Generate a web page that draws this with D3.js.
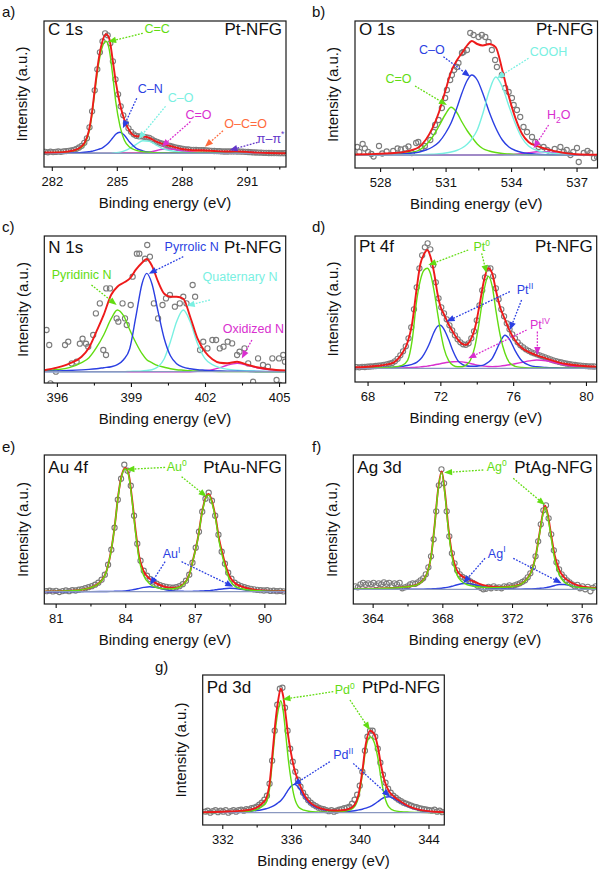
<!DOCTYPE html>
<html><head><meta charset="utf-8">
<script src="https://cdn.jsdelivr.net/npm/d3@7"></script>
<style>body{margin:0;background:#fff}svg{display:block}</style>
</head><body><svg id="chart" width="600" height="870"></svg>
<script>
// ---------------- DATA ----------------
// Panel a: C 1s (Pt-NFG)
const aGrid = [281.64,282.5,283.0,283.3,283.5,283.7,283.85,284.0,284.15,284.3,284.5,284.65,284.8,284.95,285.15,285.35,285.6,285.9,286.2,286.5,286.8,287.1,287.5,288.0,288.5,289.0,289.5,290.0,290.5,291.0,291.5,292.0,292.81];
const aCC  = [0.5,1,2.5,5,9,20,38,64,88,104,112,104,80,52,27,13,6,3,1.5,1,0.5,0.3,0.2,0.1,0,0,0,0,0,0,0,0,0];
const aCN  = [0,0.1,0.3,0.6,1,1.5,2,3,4,5,8,11,15,19,21,18,11,5,2.5,1.2,0.5,0.3,0.1,0,0,0,0,0,0,0,0,0,0];
const aCO  = [0,0,0,0,0,0,0,0,0,0,0,0,0.3,0.6,1.2,2.5,5,9,12.5,12,8.5,5,2.5,1,0.4,0.2,0.1,0,0,0,0,0,0];
const aCdO = [0,0,0,0,0,0,0,0,0,0,0,0,0,0,0,0,0,0,0.5,1.2,2.5,4,4.3,2.5,1,0.4,0.1,0,0,0,0,0,0];
const aOCO = [0,0,0,0,0,0,0,0,0,0,0,0,0,0,0,0,0,0,0,0,0,0,0.3,0.8,1.8,2.5,2,1,0.4,0.1,0,0,0];
const aPi  = [0,0,0,0,0,0,0,0,0,0,0,0,0,0,0,0,0,0,0,0,0,0,0,0,0,0,0.2,0.8,1.5,1.3,0.7,0.3,0.1];
const aFit = [0.8,1.2,2.8,5.6,10,21.5,40,67,92,109,119,115,95,72,49,33.5,22,17,17,15.4,12,9.6,7.1,4.3,3.2,3.1,2.3,1.8,1.9,1.4,0.7,0.3,0.1];
const aDataStart = 281.7, aDataStep = 0.12;
const aData = [1.5,1.0,1.6,1.2,1.4,1.8,1.5,2.0,2.2,2.4,2.8,3.5,4.5,5.8,7.5,10.5,15,26,42,63,84,101,112,120,118,110,92,74,59,47,38,30,25,21.5,19,17.5,17,17,16.5,16,15.5,14,12.5,11.5,10.5,9.6,8.8,8,7.3,6.6,6,5.4,4.8,4.4,4,3.8,3.5,3.4,3.3,3.2,3.2,3.1,2.9,2.7,2.5,2.3,2.2,2.1,1.9,1.8,1.8,1.9,1.9,1.9,1.8,1.7,1.6,1.5,1.3,1.1,0.9,0.8,0.7,0.6,0.5,0.4,0.3,0.3,0.2,0.2,0.1,0.1,0.1];
const aTicks = [282,285,288,291], aMinor = [283.5,286.5,289.5,292.5];

// Panel b: O 1s (Pt-NFG)
const bGrid = [526.85,527.5,528,528.5,529,529.4,529.8,530.1,530.4,530.7,531.0,531.25,531.5,531.75,532.0,532.2,532.45,532.7,533.0,533.3,533.6,533.9,534.2,534.5,534.8,535.2,535.6,536.0,536.5,537.0,537.96];
const bCdO = [0,0.2,0.4,0.7,1.3,2.5,5,10,18,29,41,47.7,43,33,24,18,11,6.5,4,2.5,1.5,1,0.6,0.4,0.3,0.2,0.1,0,0,0,0];
const bCO  = [0,0.1,0.3,0.6,1,1.8,3,5,8,13,22,32,46,62,75,80,75,62,43,27,15,8,4.5,2.5,1.5,0.8,0.4,0.2,0.1,0,0];
const bCOOH= [0,0,0,0,0.1,0.2,0.3,0.5,0.8,1.2,2,3,4.5,7,11,16,25,41,64,78,68,49,31,17,9,4.5,2.5,1.5,0.8,0.4,0.2];
const bH2O = [0,0,0,0,0,0,0,0,0,0,0,0,0,0,0,0,0,0,0,0.1,0.3,0.5,0.8,1.4,2.2,3.3,3.2,2.2,1,0.4,0.1];
const bFit = [0.5,0.8,1.2,1.8,2.6,4.5,8.3,15.5,26.8,43,65,83,94,102,110,114,111,109.5,111,107.6,84.8,58.5,36.9,21.3,13,8.8,6.1,3.9,1.9,0.8,0.3];
const bData = [[526.95,8],[527.05,3],[527.2,11],[527.3,6.5],[527.45,3],[527.6,1],[527.7,-1.5],[527.95,9],[528.1,1.5],[528.3,3.5],[528.6,4],[528.8,6.5],[528.95,5.5],[529.15,6.5],[529.3,8.5],[529.45,2],[529.65,12],[529.75,13],[529.9,7],[530.05,9],[530.3,15],[530.45,23],[530.52,30],[530.68,35],[530.83,47],[530.98,57],[531.06,65],[531.21,75],[531.29,80],[531.39,85],[531.52,88],[531.59,92],[531.75,102],[531.82,103],[531.98,105],[532.13,122],[532.28,120],[532.51,118],[532.66,120],[532.82,118],[532.97,113],[533.12,105],[533.27,95],[533.35,88],[533.58,80],[533.73,67],[533.89,63],[534.04,57],[534.12,50],[534.27,45],[534.42,38],[534.57,28],[534.73,23],[534.96,18],[535.11,13],[535.26,8],[535.49,8],[535.65,5],[535.8,3],[536.0,6],[536.26,8],[536.41,3],[536.55,5],[536.72,0],[536.85,3],[537.02,7],[537.1,-7],[537.33,2],[537.5,4],[537.63,2],[537.8,-3],[537.94,-2]];
const bTicks = [528,531,534,537], bMinor = [529.5,532.5,535.5];

// Panel c: N 1s (Pt-NFG)
const cGrid = [395.49,396,396.5,397,397.3,397.6,397.9,398.2,398.45,398.7,398.95,399.2,399.45,399.64,399.85,400.1,400.35,400.6,400.85,401.12,401.4,401.7,402.0,402.3,402.6,402.9,403.3,403.7,404.1,404.6,405.27];
const cPyridinic  = [1,2,4,9,14,24,37,53,61.7,56,42,29,18,12,9,6,4.5,3,2,1.5,1,0.7,0.5,0.3,0.2,0.1,0.1,0.1,0,0,0];
const cPyrrolic   = [0.5,0.8,1.2,1.8,2.3,3,4,5,7,12,23,55,88,98.3,88,60,33,16,8,4.5,3,2,1.5,1,0.7,0.5,0.4,0.3,0.2,0.1,0.1];
const cQuaternary = [0,0,0,0,0,0,0,0,0,0,0.3,0.5,0.8,1.3,2,5,13,30,50,61.7,50,28,13,7,4,2.5,1.5,1,0.6,0.3,0.1];
const cOxidized   = [0,0,0,0,0,0,0,0,0,0,0,0,0,0,0,0,0,0,0,0,0,0.3,1,2,4,6.5,8.3,6.5,4,2,0.6];
const cFit = [1.5,4,8,15,24,40,57,77,85,89,93,102,109,112.7,106,90,78,75,75,73,55,33,20,12.5,9,8.5,10,7,4.5,2.5,1.3];
const cData = [[395.58,41.7],[395.69,26.7],[395.74,-11.7],[395.85,-14],[395.96,0],[396.33,26.7],[396.46,30],[396.6,8.3],[396.8,10],[396.93,28],[397.04,33],[397.18,28],[397.27,25],[397.47,36.7],[397.58,58.3],[397.74,68.3],[397.88,21.7],[397.99,16.7],[398.0,83.3],[398.15,83.3],[398.42,53.3],[398.49,50],[398.66,68.3],[398.76,53.3],[398.83,46.7],[398.99,66.7],[399.07,95],[399.24,118],[399.34,118],[399.57,113],[399.66,126.7],[399.77,115],[399.93,68.3],[400.1,53.3],[400.28,66.7],[400.42,73.3],[400.58,76.7],[400.78,65],[400.98,68.3],[401.12,75],[401.25,68.3],[401.5,86.7],[401.6,75],[401.8,21.7],[401.93,30],[402.1,23.3],[402.3,31.7],[402.45,31.7],[402.6,23.3],[402.75,25],[402.92,30],[403.1,28.3],[403.3,16.7],[403.4,20],[403.6,23.3],[403.75,8.3],[403.95,-10],[404.15,13.3],[404.35,6.7],[404.55,5],[404.73,13.3],[404.9,-8.3],[405.0,13.3],[405.17,16.7],[405.24,10],[405.03,-13.3]];
const cTicks = [396,399,402,405], cMinor = [397.5,400.5,403.5];

// Panel d: Pt 4f (Pt-NFG)
const dGrid = [67.31,68,68.8,69.4,69.9,70.2,70.45,70.7,70.9,71.1,71.28,71.45,71.65,71.85,72.0,72.2,72.45,72.7,72.95,73.2,73.4,73.65,73.9,74.15,74.4,74.63,74.85,75.05,75.3,75.55,75.8,76.1,76.5,76.9,77.3,77.8,78.4,79.0,79.7,80.59];
const dPt0  = [0.2,0.3,0.6,1.2,3,8,28,68,88,98,100,95,78,55,38,20,8,3,1.5,1.5,3,8,22,48,78,92,82,58,32,15,5.5,2,0.8,0.4,0.3,0.2,0.1,0.1,0,0];
const dPt2  = [0.3,0.5,0.8,1.2,2,2.8,4,6,9,14,20,27,36,42,43,39,29,17,8,4,2.5,2,2,2.5,3.5,6,10,17,27,33,29,18,7,3,1.5,0.8,0.5,0.3,0.2,0.1];
const dPt4  = [0,0,0.1,0.2,0.4,0.6,0.8,1.1,1.4,1.8,2.2,2.7,3.3,4,4.6,5.3,6,6.5,6.7,6.4,5.8,4.8,3.7,2.8,2.2,1.8,1.7,1.8,2.2,2.8,3.5,4.6,6,7.4,8.3,7.5,5,2.8,1.3,0.5];
const dFit  = [1,1.5,3,5.5,15,26,45,80,104,114,118.3,112,96,74,62,54,44,36,29,24.5,23.5,28,40,63,88,100,95,78,60,49,38,28,20,16,13,10,6.5,4,2.5,1.7];
const dDataStart = 67.4, dDataStep = 0.15;
const dData = [1.2,1.0,1.5,1.3,1.6,1.8,2.0,2.3,2.6,3.0,3.4,3.9,4.6,5.4,7,9.5,13,17,22,30,41,59,81,100,113,121,125,119,103,86,70,61,55,49,43,38,33,29,26,24,23.5,25,30,37,48,63,78,91,100,100,92,80,69,59,52,45,39,34,30,26,23,21,19,17.5,16,15,14,13,12,11,10,9,8,7.2,6.5,5.8,5.2,4.6,4.1,3.7,3.3,3,2.7,2.4,2.2,2,1.9,1.8];
const dTicks = [68,72,76,80], dMinor = [70,74,78];

// Panel e: Au 4f (PtAu-NFG)
const eGrid = [80.51,81.3,82.0,82.5,82.9,83.2,83.4,83.55,83.7,83.85,84.0,84.15,84.3,84.45,84.6,84.8,85.05,85.3,85.6,85.9,86.2,86.5,86.75,86.95,87.15,87.3,87.45,87.6,87.75,87.9,88.05,88.25,88.5,88.75,89.0,89.4,89.9,90.92];
const eAu0 = [0.3,0.6,1.5,4,9,21,42,66,96,116,123,116,90,58,32,16,8,4.5,3,2.8,3.5,7,16,34,55,77,92,96.7,88,72,50,30,12,5,3,1.5,0.8,0.3];
const eAu1 = [0,0,0.05,0.1,0.15,0.2,0.3,0.4,0.5,0.6,0.8,1.2,1.8,2.5,3.3,4.3,5,4.3,2.7,1.3,0.6,0.4,0.3,0.4,0.5,0.7,0.9,1.1,1.5,1.9,2.4,3,3.4,3.2,2.4,1.2,0.4,0.1];
const eFit = [0.3,0.6,1.6,4.1,9.2,21.2,42.3,66.4,96.5,116.6,123.8,117.2,91.8,60.5,35.3,20.3,13,8.8,5.7,4.1,4.1,7.4,16.3,34.4,55.5,77.7,92.9,97.8,89.5,73.9,52.4,33,15.4,8.2,5.4,2.7,1.2,0.4];
const eDataStart = 80.6, eDataStep = 0.14;
const eData = [0.5,1,0.3,0.8,-0.3,0.6,1.2,0.5,1.5,1.2,2,2.5,3.5,4.5,5.5,7,9,12,17,27,42,64,92,113,127,121,106,76,48,31,21,16,12.5,10,8,6.5,5.5,4.8,4.3,4,4.5,5.5,7.5,11,17,29,44,60,80,93,99,91,76,57,40,28,19,13,9,7,5.5,4.5,3.5,2.8,2.3,1.8,1.5,1.2,1.5,0.8,1,0.5,0.8,0.3];
const eTicks = [81,84,87,90], eMinor = [82.5,85.5,88.5];

// Panel f: Ag 3d (PtAg-NFG)
const fGrid = [362.89,363.8,364.8,365.6,366.2,366.6,366.9,367.15,367.35,367.55,367.75,367.96,368.15,368.35,368.55,368.8,369.1,369.4,369.8,370.3,370.9,371.5,372.1,372.5,372.85,373.1,373.35,373.55,373.75,373.9,374.05,374.25,374.45,374.7,375.0,375.4,375.9,376.86];
const fAg0 = [0.3,0.6,1,1.8,3,5,9,17,32,62,98,116.7,95,59,33,16,8,4.8,3,2,1.7,2,3,5,10,17,32,52,73,82,73,51,30,15,7,3.5,1.8,0.8];
const fAg1 = [0,0,0,0,0.05,0.1,0.15,0.25,0.4,0.6,0.8,1.1,1.6,2.2,3,4.3,5.5,6,4.8,2.5,0.9,0.4,0.2,0.2,0.3,0.4,0.6,0.9,1.2,1.6,2,2.8,3.8,4.8,4.8,3.3,1.5,0.4];
const fFit = [0.3,0.6,1,1.8,3.1,5.1,9.2,17.3,32.4,62.6,98.8,117.8,96.6,61.2,36,20.3,13.5,10.8,7.8,4.5,2.6,2.4,3.2,5.2,10.3,17.4,32.6,52.9,74.2,83.6,75,53.8,33.8,19.8,11.8,6.8,3.3,1.2];
const fDataStart = 363.0, fDataStep = 0.15;
const fData = [3,2,5,6.5,4.5,6,5,6.5,4,6,5,7,5.5,6.5,4,6,5,6.5,1,2,3,5,6,5.5,7,9,11,15,22,33,50,78,104,120,106,78,53,36,26,19,15,12.5,11,10,8,6.5,5,3,1.5,0,0.5,2.5,1,3,1.5,2,1,3,2.5,4,3,4,5,6,7.5,9,12,16,22,33,48,65,79,84,71,55,39,27,20,15,12,9,7,5,3,4.5,1,3,0,2.5,-2,1.5,3];
const fTicks = [364,368,372,376], fMinor = [366,370,374];

// Panel g: Pd 3d (PtPd-NFG)
const gGrid = [330.86,332,333,333.6,334.0,334.3,334.55,334.75,334.95,335.1,335.25,335.4,335.55,335.7,335.85,336.0,336.2,336.45,336.75,337.1,337.5,338.0,338.5,339.0,339.4,339.7,339.95,340.15,340.35,340.6,340.85,341.05,341.25,341.45,341.7,342.0,342.4,342.9,343.5,344.2,344.92];
const gPd0 = [0.2,0.4,0.8,1.5,3,6,10,24,58,84,102,112,101,77,52,33,15,5.5,2.5,1.3,0.8,0.6,0.7,1.2,2.5,6,17,38,64,76,70,55,33,16,5.5,2,1,0.6,0.3,0.2,0.1];
const gPd2 = [0.3,0.6,1,1.5,2.2,3,4,5,6.5,8,10,12,15,19,23,26.5,28.3,25,16,9,5,2.5,1.5,1.2,1.5,2,2.8,3.5,4.5,6,8.5,11,13.5,15.5,16,14,10,5.5,2.5,1,0.4];
const gFit = [0.5,1,1.8,3,5.2,9,14,29,64.5,92,112,124,116,96,75,59.5,43.3,30.5,18.5,10.3,5.8,3.1,2.2,2.4,4,8,19.8,41.5,68.5,82,78.5,66,46.5,31.5,21.5,16,11,6.1,2.8,1.2,0.5];
const gDataStart = 331.0, gDataStep = 0.15;
const gData = [1,2,0,1.5,2.5,0.5,2,1,2.5,0,1.5,2.5,1,2.5,3,2,3.5,3,4.5,5,6,8,10,13,17,29,52,82,108,124,125,105,82,64,51,41,33,26,20,16,12.5,10,8,6.5,5,4,3.5,2.5,1.5,2.5,1,2,3,3.5,4.5,5,6,9,13,18,27,41,62,76,82,82,76,64,50,38,30,24,20,17,15,13,11.5,10,9,8,7,6,5.5,4.5,4,3.5,3,2.5,2,3,1,2,0.5];
const gTicks = [332,336,340,344], gMinor = [334,338,342];

// ---------------- STYLE / LAYOUT ----------------
const FONT = '"Liberation Sans", Arial, Helvetica, sans-serif';
const C = {green:'#62dc12', blue:'#2b3fe2', cyan:'#79f0e2', magenta:'#d92fcf', orange:'#ff6a3c', purple:'#6236c9',
           red:'#ee1a1a', dot:'#7c7c7c', base:'#8a98c0'};
const NOTE_SIZE = 12.5;
const toPairs = (start, step, vals) => vals.map((v, i) => [start + i * step, v]);

const panels = [
  {id:'a', tag:'a)', tagXY:[2,17], box:{x0:44,x1:286,y0:21,y1:167}, core:'C 1s', coreDy:14, sample:'Pt-NFG',
   xDomain:[281.64,292.81], yDomain:[-13.7,132.3], ticks:aTicks, minor:aMinor, grid:aGrid, fit:aFit,
   comps:[[aPi,C.purple],[aOCO,C.orange],[aCdO,C.magenta],[aCO,C.cyan],[aCN,C.blue],[aCC,C.green]],
   points:toPairs(aDataStart,aDataStep,aData),
   notes:[
     {seg:[['C=C']], color:C.green, at:[286.86,125], arrows:[[[286.2,120],[284.6,111.5]]]},
     {seg:[['C–N']], color:C.blue, at:[286.55,64.5], arrows:[[[285.92,55],[285.28,25]]]},
     {seg:[['C–O']], color:C.cyan, at:[287.95,55.5], arrows:[[[287.25,47],[286.0,14]]]},
     {seg:[['C=O']], color:C.magenta, at:[288.77,38.3], arrows:[[[288.4,31.7],[287.07,6.5]]]},
     {seg:[['O–C=O']], color:C.orange, at:[290.95,30], arrows:[[[289.9,22.5],[289.07,6.5]]]},
     {seg:[['π–π'],['*','sup']], color:C.purple, at:[292.1,15], arrows:[[[291.5,11],[290.2,3]]]}
   ]},
  {id:'b', tag:'b)', tagXY:[312,17], box:{x0:355,x1:597.5,y0:21,y1:168}, core:'O 1s', coreDy:14, sample:'Pt-NFG',
   xDomain:[526.85,537.96], yDomain:[-13,134], ticks:bTicks, minor:bMinor, grid:bGrid, fit:bFit,
   comps:[[bH2O,C.magenta],[bCdO,C.green],[bCO,C.blue],[bCOOH,C.cyan]],
   points:bData,
   notes:[
     {seg:[['C–O']], color:C.blue, at:[530.37,105], arrows:[[[530.9,98.3],[532.13,78.3]]]},
     {seg:[['C=O']], color:C.green, at:[528.84,76.7], arrows:[[[529.6,69],[531.06,50]]]},
     {seg:[['COOH']], color:C.cyan, at:[535.72,103.3], arrows:[[[534.8,96.7],[533.35,76.7]]]},
     {seg:[['H'],['2','sub'],['O']], color:C.magenta, at:[536.18,40], arrows:[[[535.72,30],[535.03,6.7]]]}
   ]},
  {id:'c', tag:'c)', tagXY:[2,232], box:{x0:44.3,x1:285.7,y0:236,y1:383}, core:'N 1s', coreDy:17, sample:'Pt-NFG',
   xDomain:[395.49,405.27], yDomain:[-11.3,135.7], ticks:cTicks, minor:cMinor, grid:cGrid, fit:cFit,
   comps:[[cOxidized,C.magenta],[cPyridinic,C.green],[cQuaternary,C.cyan],[cPyrrolic,C.blue]],
   points:cData,
   notes:[
     {seg:[['Pyrrolic N']], color:C.blue, at:[401.46,125], arrows:[[[401.12,115],[399.72,98]]]},
     {seg:[['Pyridinic N']], color:C.green, at:[397.0,96.7], arrows:[[[397.4,86.7],[398.42,66.7]]]},
     {seg:[['Quaternary N']], color:C.cyan, at:[403.42,95], arrows:[[[402.2,71.7],[401.26,66]]]},
     {seg:[['Oxidized N']], color:C.magenta, at:[403.96,43.3], arrows:[[[403.9,31.7],[403.49,13.3]]]}
   ]},
  {id:'d', tag:'d)', tagXY:[312,232], box:{x0:355,x1:596.7,y0:236,y1:382}, core:'Pt 4f', coreDy:16, sample:'Pt-NFG',
   xDomain:[67.31,80.59], yDomain:[-13.7,132.3], ticks:dTicks, minor:dMinor, grid:dGrid, fit:dFit,
   comps:[[dPt4,C.magenta],[dPt2,C.blue],[dPt0,C.green]],
   points:toPairs(dDataStart,dDataStep,dData),
   notes:[
     {seg:[['Pt'],['0','sup']], color:C.green, at:[74.27,121.6], arrows:[[[73.53,118.3],[71.34,103.3]],[[74.27,115],[74.54,95]]]},
     {seg:[['Pt'],['II','sup']], color:C.blue, at:[76.65,78.3], arrows:[[[75.82,76.7],[72.34,46.7]],[[76.46,68.3],[75.82,38.3]]]},
     {seg:[['Pt'],['IV','sup']], color:C.magenta, at:[77.47,43.3], arrows:[[[76.74,38.3],[73.53,10]],[[77.33,36.7],[77.33,13.3]]]}
   ]},
  {id:'e', tag:'e)', tagXY:[2,452], box:{x0:44.3,x1:285.7,y0:455,y1:604}, core:'Au 4f', coreDy:18, sample:'PtAu-NFG',
   xDomain:[80.51,90.92], yDomain:[-12.3,136.7], ticks:eTicks, minor:eMinor, grid:eGrid, fit:eFit,
   comps:[[eAu1,C.blue],[eAu0,C.green]], fitUnder:true,
   points:toPairs(eDataStart,eDataStep,eData),
   notes:[
     {seg:[['Au'],['0','sup']], color:C.green, at:[86.22,125], arrows:[[[85.72,124.3],[84.05,122.3]],[[86.43,115],[87.51,95]]]},
     {seg:[['Au'],['I','sup']], color:C.blue, at:[86.0,38.3], arrows:[[[85.72,30],[85.07,6.7]],[[86.43,30],[88.66,5]]]}
   ]},
  {id:'f', tag:'f)', tagXY:[312,452], box:{x0:353.3,x1:596.7,y0:455,y1:604}, core:'Ag 3d', coreDy:18, sample:'PtAg-NFG',
   xDomain:[362.89,376.86], yDomain:[-14.7,134.3], ticks:fTicks, minor:fMinor, grid:fGrid, fit:fFit,
   comps:[[fAg1,C.blue],[fAg0,C.green]], fitUnder:true,
   points:toPairs(fDataStart,fDataStep,fData),
   notes:[
     {seg:[['Ag'],['0','sup']], color:C.green, at:[371.12,122.6], arrows:[[[370.35,119.3],[368.1,116.7]],[[372.07,111],[373.89,84.3]]]},
     {seg:[['Ag'],['I','sup']], color:C.blue, at:[371.12,36], arrows:[[[370.45,31],[369.2,6]],[[372.07,31],[374.85,6]]]}
   ]},
  {id:'g', tag:'g)', tagXY:[155,672], box:{x0:202.7,x1:444.3,y0:675,y1:825}, core:'Pd 3d', coreDy:18, sample:'PtPd-NFG',
   xDomain:[330.86,344.92], yDomain:[-12.3,137.7], ticks:gTicks, minor:gMinor, grid:gGrid, fit:gFit,
   comps:[[gPd2,C.blue],[gPd0,C.green]],
   points:toPairs(gDataStart,gDataStep,gData),
   notes:[
     {seg:[['Pd'],['0','sup']], color:C.green, at:[339.13,122.7], arrows:[[[338.46,121],[335.5,113.3]],[[339.43,112.7],[340.59,82.7]]]},
     {seg:[['Pd'],['II','sup']], color:C.blue, at:[339.04,57.7], arrows:[[[338.26,51],[336.13,27.7]],[[339.62,49.3],[341.76,16]]]}
   ]}
];

// ---------------- DRAW ----------------
const svg = d3.select('#chart');
const defs = svg.append('defs');

function addText(sel, segs, size) {
  let shift = 0;
  segs.forEach(([t, mode]) => {
    const ts = sel.append('tspan').text(t);
    let target = 0;
    if (mode === 'sup') { ts.attr('font-size', size * 0.68); target = -size * 0.42; }
    else if (mode === 'sub') { ts.attr('font-size', size * 0.68); target = size * 0.25; }
    if (target !== shift) ts.attr('dy', target - shift);
    shift = target;
  });
}

panels.forEach(p => {
  const b = p.box;
  const x = d3.scaleLinear().domain(p.xDomain).range([b.x0, b.x1]);
  const y = d3.scaleLinear().domain(p.yDomain).range([b.y1, b.y0]);
  const g = svg.append('g').attr('font-family', FONT);

  defs.append('clipPath').attr('id', 'clip-' + p.id).append('rect')
    .attr('x', b.x0).attr('y', b.y0).attr('width', b.x1 - b.x0).attr('height', b.y1 - b.y0);
  const inner = g.append('g').attr('clip-path', `url(#clip-${p.id})`);

  const line = d3.line().x(d => x(d[0])).y(d => y(d[1])).curve(d3.curveMonotoneX);

  inner.append('g').selectAll('circle').data(p.points).join('circle')
    .attr('cx', d => x(d[0])).attr('cy', d => y(d[1])).attr('r', 2.6)
    .attr('fill', 'none').attr('stroke', C.dot).attr('stroke-width', 1.1);

  const drawFit = () => inner.append('path').attr('d', line(d3.zip(p.grid, p.fit)))
    .attr('fill', 'none').attr('stroke', C.red).attr('stroke-width', 1.9);

  if (p.fitUnder) drawFit();
  p.comps.forEach(([vals, color]) => {
    inner.append('path').attr('d', line(d3.zip(p.grid, vals)))
      .attr('fill', 'none').attr('stroke', color).attr('stroke-width', 1.4);
  });
  inner.append('line').attr('x1', b.x0).attr('x2', b.x1).attr('y1', y(0)).attr('y2', y(0))
    .attr('stroke', C.base).attr('stroke-width', 1.3);
  if (!p.fitUnder) drawFit();

  // annotations
  p.notes.forEach(n => {
    n.arrows.forEach(([from, to]) => {
      const x1 = x(from[0]), y1 = y(from[1]), x2 = x(to[0]), y2 = y(to[1]);
      const dx = x2 - x1, dy = y2 - y1, len = Math.hypot(dx, dy);
      const ux = dx / len, uy = dy / len, L = 8, W = 3.2;
      g.append('line').attr('x1', x1).attr('y1', y1).attr('x2', x2 - ux * L * 0.6).attr('y2', y2 - uy * L * 0.6)
        .attr('stroke', n.color).attr('stroke-width', 1.3).attr('stroke-dasharray', '1.8,1.4');
      const bx = x2 - ux * L, by = y2 - uy * L;
      g.append('path').attr('d', `M${x2},${y2}L${bx - uy * W},${by + ux * W}L${bx + uy * W},${by - ux * W}Z`)
        .attr('fill', n.color);
    });
    const t = g.append('text').attr('x', x(n.at[0])).attr('y', y(n.at[1])).attr('dy', '0.35em')
      .attr('text-anchor', 'middle').attr('font-size', NOTE_SIZE).attr('fill', n.color);
    addText(t, n.seg, NOTE_SIZE);
  });

  // frame
  g.append('rect').attr('x', b.x0).attr('y', b.y0).attr('width', b.x1 - b.x0).attr('height', b.y1 - b.y0)
    .attr('fill', 'none').attr('stroke', '#1a1a1a').attr('stroke-width', 1.2);

  // axes
  const major = g.append('g').attr('transform', `translate(0,${b.y1})`)
    .call(d3.axisBottom(x).tickValues(p.ticks).tickSize(4).tickPadding(6).tickFormat(d3.format('d')));
  const minor = g.append('g').attr('transform', `translate(0,${b.y1})`)
    .call(d3.axisBottom(x).tickValues(p.minor).tickSize(2.5).tickFormat(''));
  [major, minor].forEach(a => {
    a.select('.domain').remove();
    a.attr('font-family', FONT).attr('font-size', 13).attr('color', '#111');
    a.selectAll('line').attr('stroke-width', 1.1);
  });

  // titles
  g.append('text').attr('x', (b.x0 + b.x1) / 2).attr('y', b.y1 + 41).attr('text-anchor', 'middle')
    .attr('font-size', 15).attr('fill', '#111').text('Binding energy (eV)');
  g.append('text').attr('transform', `translate(${b.x0 - 22},${(b.y0 + b.y1) / 2}) rotate(-90)`)
    .attr('dy', '0.35em').attr('text-anchor', 'middle').attr('font-size', 15).attr('fill', '#111')
    .text('Intensity (a.u.)');
  g.append('text').attr('x', p.tagXY[0]).attr('y', p.tagXY[1]).attr('font-size', 15).attr('fill', '#111').text(p.tag);
  g.append('text').attr('x', b.x0 + 4).attr('y', b.y0 + p.coreDy).attr('font-size', 17).attr('fill', '#111').text(p.core);
  g.append('text').attr('x', b.x1 - 4).attr('y', b.y0 + p.coreDy).attr('text-anchor', 'end')
    .attr('font-size', 17).attr('fill', '#111').text(p.sample);
});
</script>
</body></html>
